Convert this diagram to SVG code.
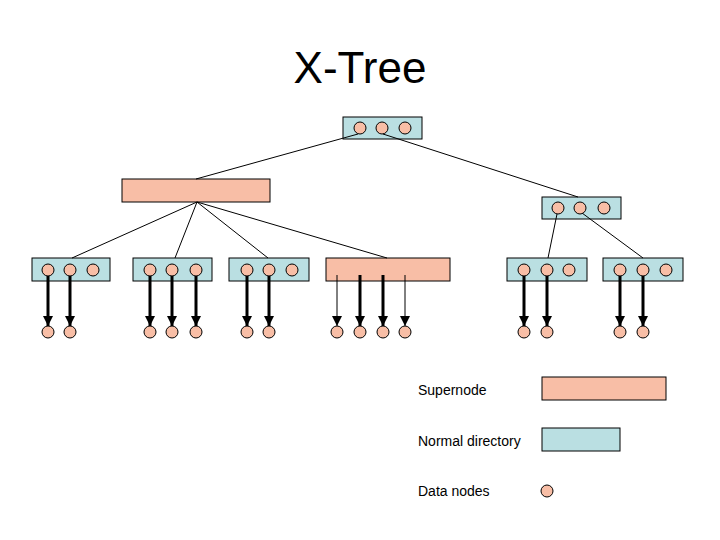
<svg xmlns="http://www.w3.org/2000/svg" width="720" height="540" viewBox="0 0 720 540">
<style>
.sup{fill:#F8BEA6;stroke:#000;stroke-width:1}
.dir{fill:#BADFE2;stroke:#000;stroke-width:1}
.dot{fill:#F8BEA6;stroke:#000;stroke-width:1}
.ln{stroke:#000;stroke-width:1;fill:none}
.thick{stroke:#000;stroke-width:3;fill:none}
.txt{font-family:"Liberation Sans",Arial,sans-serif;fill:#000}
</style>
<defs>
<marker id="ah" markerUnits="userSpaceOnUse" markerWidth="10" markerHeight="10" viewBox="0 0 10 10" refX="10" refY="5" orient="auto">
<path d="M0,0 L10,5 L0,10 Z" fill="#000"/>
</marker>
</defs>
<rect width="720" height="540" fill="#fff"/>
<text class="txt" x="360" y="83" font-size="44" text-anchor="middle">X-Tree</text>

<g id="root">
<rect class="dir" x="343" y="117" width="79" height="22"/>
<circle class="dot" cx="360" cy="128" r="6"/>
<circle class="dot" cx="382" cy="128" r="6"/>
<circle class="dot" cx="405" cy="128" r="6"/>
</g>
<g id="supernode-top">
<rect class="sup" x="122" y="179" width="148" height="23"/>
</g>
<g id="dir-right">
<rect class="dir" x="542" y="197" width="79" height="22"/>
<circle class="dot" cx="558" cy="208" r="6"/>
<circle class="dot" cx="580" cy="208" r="6"/>
<circle class="dot" cx="604" cy="208" r="6"/>
</g>
<g id="leaf1">
<rect class="dir" x="32" y="258" width="78" height="23"/>
<circle class="dot" cx="48" cy="270" r="6"/>
<circle class="dot" cx="70" cy="270" r="6"/>
<circle class="dot" cx="93" cy="270" r="6"/>
</g>
<g id="leaf2">
<rect class="dir" x="133" y="258" width="79" height="23"/>
<circle class="dot" cx="150" cy="270" r="6"/>
<circle class="dot" cx="172" cy="270" r="6"/>
<circle class="dot" cx="196" cy="270" r="6"/>
</g>
<g id="leaf3">
<rect class="dir" x="229" y="258" width="80" height="23"/>
<circle class="dot" cx="247" cy="270" r="6"/>
<circle class="dot" cx="269" cy="270" r="6"/>
<circle class="dot" cx="292" cy="270" r="6"/>
</g>
<g id="superleaf">
<rect class="sup" x="326" y="258" width="124" height="23"/>
</g>
<g id="leaf5">
<rect class="dir" x="507" y="258" width="80" height="23"/>
<circle class="dot" cx="524" cy="270" r="6"/>
<circle class="dot" cx="547" cy="270" r="6"/>
<circle class="dot" cx="569" cy="270" r="6"/>
</g>
<g id="leaf6">
<rect class="dir" x="603" y="258" width="80" height="23"/>
<circle class="dot" cx="620" cy="270" r="6"/>
<circle class="dot" cx="643" cy="270" r="6"/>
<circle class="dot" cx="666" cy="270" r="6"/>
</g>

<g id="connectors">
<line class="ln" x1="358" y1="134" x2="196" y2="179"/>
<line class="ln" x1="383" y1="134" x2="578" y2="197"/>
<line class="ln" x1="197" y1="202" x2="72" y2="258"/>
<line class="ln" x1="197" y1="202" x2="175" y2="258"/>
<line class="ln" x1="197" y1="202" x2="268" y2="258"/>
<line class="ln" x1="197" y1="202" x2="387" y2="258"/>
<line class="ln" x1="557" y1="214" x2="548" y2="258"/>
<line class="ln" x1="582" y1="213" x2="643" y2="258"/>

<line class="thick" x1="48" y1="276" x2="48" y2="326" marker-end="url(#ah)"/>
<line class="thick" x1="70" y1="276" x2="70" y2="326" marker-end="url(#ah)"/>
<line class="thick" x1="150" y1="276" x2="150" y2="326" marker-end="url(#ah)"/>
<line class="thick" x1="172" y1="276" x2="172" y2="326" marker-end="url(#ah)"/>
<line class="thick" x1="196" y1="276" x2="196" y2="326" marker-end="url(#ah)"/>
<line class="thick" x1="247" y1="276" x2="247" y2="326" marker-end="url(#ah)"/>
<line class="thick" x1="269" y1="276" x2="269" y2="326" marker-end="url(#ah)"/>
<line class="ln" x1="337" y1="275" x2="337" y2="326" marker-end="url(#ah)"/>
<line class="thick" x1="360" y1="275" x2="360" y2="326" marker-end="url(#ah)"/>
<line class="thick" x1="383" y1="275" x2="383" y2="326" marker-end="url(#ah)"/>
<line class="ln" x1="405" y1="275" x2="405" y2="326" marker-end="url(#ah)"/>
<line class="thick" x1="524" y1="276" x2="524" y2="326" marker-end="url(#ah)"/>
<line class="thick" x1="547" y1="276" x2="547" y2="326" marker-end="url(#ah)"/>
<line class="thick" x1="620" y1="276" x2="620" y2="326" marker-end="url(#ah)"/>
<line class="thick" x1="643" y1="276" x2="643" y2="326" marker-end="url(#ah)"/>
</g>

<g id="data-nodes">
<circle class="dot" cx="48" cy="332" r="6"/>
<circle class="dot" cx="70" cy="332" r="6"/>
<circle class="dot" cx="150" cy="332" r="6"/>
<circle class="dot" cx="172" cy="332" r="6"/>
<circle class="dot" cx="196" cy="332" r="6"/>
<circle class="dot" cx="247" cy="332" r="6"/>
<circle class="dot" cx="269" cy="332" r="6"/>
<circle class="dot" cx="337" cy="332" r="6"/>
<circle class="dot" cx="360" cy="332" r="6"/>
<circle class="dot" cx="383" cy="332" r="6"/>
<circle class="dot" cx="405" cy="332" r="6"/>
<circle class="dot" cx="524" cy="332" r="6"/>
<circle class="dot" cx="547" cy="332" r="6"/>
<circle class="dot" cx="620" cy="332" r="6"/>
<circle class="dot" cx="643" cy="332" r="6"/>
</g>

<g id="legend">
<text class="txt" x="418" y="395" font-size="14">Supernode</text>
<rect class="sup" x="542" y="377" width="124" height="23"/>
<text class="txt" x="418" y="446" font-size="14">Normal directory</text>
<rect class="dir" x="542" y="428" width="78" height="23"/>
<text class="txt" x="418" y="496" font-size="14">Data nodes</text>
<circle class="dot" cx="547" cy="491" r="6"/>
</g>
</svg>
